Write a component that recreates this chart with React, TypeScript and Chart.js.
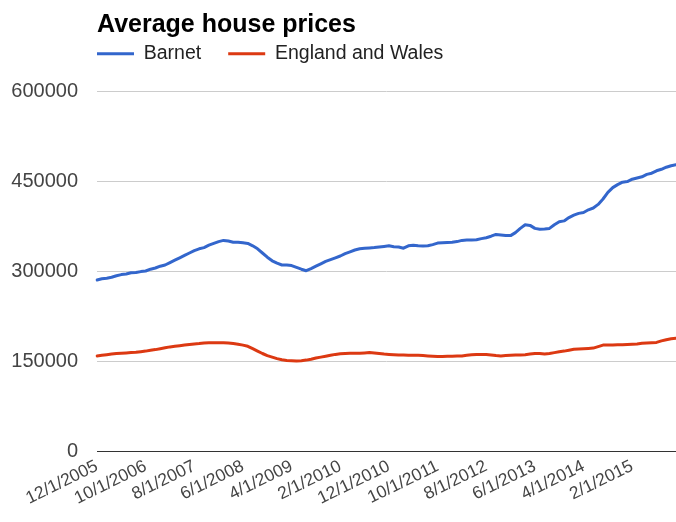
import React, { useEffect, useRef } from 'react';
import { Chart, registerables } from 'chart.js';

Chart.register(...registerables);

// Monthly categories: 12/1/2005 .. 11/1/2015
const START_YEAR = 2005;
const START_MONTH = 12;
const MONTH_COUNT = 120;
const CATEGORIES: string[] = Array.from({ length: MONTH_COUNT }, (_, i) => {
  const m0 = START_MONTH - 1 + i;
  return `${(m0 % 12) + 1}/1/${START_YEAR + Math.floor(m0 / 12)}`;
});

const TICK_LABELS = [
  '12/1/2005', '10/1/2006', '8/1/2007', '6/1/2008', '4/1/2009', '2/1/2010',
  '12/1/2010', '10/1/2011', '8/1/2012', '6/1/2013', '4/1/2014', '2/1/2015',
];

const Y_MIN = 0;
const Y_MAX = 600000;
const Y_STEP = 150000;

// Average prices in £ thousands
const BARNET_K = [
  285, 287, 288, 289.5, 292, 294, 295, 297, 297.5, 299,
  300, 303, 305, 308, 310, 314, 318, 322, 326, 330,
  334, 337, 339, 343, 346, 349, 351, 350, 348, 348,
  347, 346, 342, 337, 330, 323, 317, 313, 310, 310,
  309, 306, 303, 300.5, 304, 308, 312, 316, 319, 322,
  325, 329, 332, 335, 337, 338, 338.5, 339, 340, 341,
  342, 340.5, 340, 338, 342, 343, 342, 341.5, 342, 344,
  346.5, 347, 347.5, 348, 349, 351, 351.5, 351.5, 352, 354,
  355.5, 358, 361, 360, 359, 359, 364, 371, 377, 376,
  371, 369.5, 370, 371, 377, 382, 383.5, 389, 393, 396,
  397.5, 402, 405, 411, 420, 431, 439, 444, 448, 449,
  453, 455, 457, 461, 463, 467, 469.5, 473, 475.5, 477,
];

const ENGLAND_WALES_K = [
  158.5, 159.5, 160.5, 161.5, 162.5, 163, 163.5, 164, 164.5, 165.5,
  166.5, 168, 169, 170.5, 172, 173.5, 174.5, 175.5, 176.5, 177.5,
  178.5, 179, 180, 180.5, 180.5, 180.5, 180.5, 180, 179, 178,
  176.5, 174.5, 170.5, 166.5, 162.5, 159, 156.5, 154, 152, 151,
  150.5, 150, 150.5, 151.5, 153, 155, 156.5, 158, 159.5, 161,
  162, 162.5, 163, 163, 163, 163.5, 164, 163.5, 162.5, 161.5,
  161, 160.5, 160, 160, 159.5, 159.5, 159.5, 159, 158.5, 158,
  157.5, 157.5, 158, 158, 158.5, 158.5, 159.5, 160.5, 161, 161,
  161, 160, 159, 158.5, 159, 159.5, 160, 160, 160.5, 161.5,
  162.5, 162.5, 161.5, 162.5, 164, 165.5, 166.5, 168, 169.5, 170,
  170.5, 171, 171.5, 174, 176.5, 176.5, 176.5, 177, 177, 177.5,
  178, 178.5, 179.5, 180, 180.5, 181, 183.5, 185.5, 187, 188,
];

const SERIES_NAMES = ['Barnet', 'England and Wales'];
const SERIES_COLORS = ['#3366cc', '#dc3912'];

const FONT = '"Liberation Sans", Arial, Helvetica, sans-serif';
const LEGEND_GAP = 27;
const LEGEND_TOP = 17;

export default function App() {
  const ref = useRef<HTMLCanvasElement>(null);

  useEffect(() => {
    const canvas = ref.current;
    if (!canvas) return;

    const legendPlacement = {
      id: 'legendPlacement',
      beforeDraw(chart: any) {
        const lg = chart.legend;
        if (lg) {
          lg.left = chart.chartArea.left - LEGEND_GAP;
          lg.top = LEGEND_TOP;
        }
      },
    };

    const chart = new Chart(canvas, {
      type: 'line',
      data: {
        labels: CATEGORIES,
        datasets: [
          {
            label: SERIES_NAMES[0],
            data: BARNET_K.map((v) => v * 1000),
            borderColor: SERIES_COLORS[0],
            backgroundColor: SERIES_COLORS[0],
            borderWidth: 3,
            pointRadius: 0,
            tension: 0,
            borderJoinStyle: 'round',
            borderCapStyle: 'round',
          },
          {
            label: SERIES_NAMES[1],
            data: ENGLAND_WALES_K.map((v) => v * 1000),
            borderColor: SERIES_COLORS[1],
            backgroundColor: SERIES_COLORS[1],
            borderWidth: 3,
            pointRadius: 0,
            tension: 0,
            borderJoinStyle: 'round',
            borderCapStyle: 'round',
          },
        ],
      },
      options: {
        animation: false,
        responsive: false,
        layout: { padding: 0 },
        plugins: {
          title: {
            display: true,
            text: 'Average house prices',
            align: 'start',
            fullSize: false,
            color: '#000',
            font: { family: FONT, size: 25, weight: 'bold', lineHeight: 1.2 },
            padding: { top: 10, bottom: 0 },
          },
          legend: {
            display: true,
            position: 'top',
            align: 'start',
            fullSize: false,
            maxHeight: 51,
            labels: {
              boxWidth: 37,
              boxHeight: 3,
              padding: LEGEND_GAP,
              color: '#222',
              font: { family: FONT, size: 19.5 },
              generateLabels: (c: any) =>
                c.data.datasets.map((ds: any, i: number) => ({
                  text: ds.label,
                  fillStyle: ds.borderColor,
                  strokeStyle: ds.borderColor,
                  lineWidth: 0,
                  hidden: false,
                  datasetIndex: i,
                  fontColor: '#222',
                })),
            },
          },
          tooltip: { enabled: false },
        },
        scales: {
          x: {
            type: 'category',
            grid: { display: false },
            border: { display: true, color: '#333', width: 1 },
            ticks: {
              autoSkip: false,
              maxRotation: 26,
              minRotation: 26,
              padding: -3,
              color: '#444',
              font: { family: FONT, size: 17.5 },
              callback: (_v: any, idx: number) => {
                const l = CATEGORIES[idx];
                return TICK_LABELS.includes(l) ? l : null;
              },
            },
            afterFit: (s: any) => {
              s.height = 71;
            },
          },
          y: {
            min: Y_MIN,
            max: Y_MAX,
            grid: {
              color: (ctx: any) => (ctx.tick && ctx.tick.value === 0 ? '#333' : '#ccc'),
              drawTicks: false,
              lineWidth: 1,
            },
            border: { display: false },
            ticks: {
              stepSize: Y_STEP,
              padding: 19,
              color: '#444',
              font: { family: FONT, size: 20 },
              callback: (v: any) => String(v),
            },
            afterFit: (s: any) => {
              s.width = 97;
            },
          },
        },
      },
      plugins: [legendPlacement],
    } as any);

    return () => chart.destroy();
  }, []);

  return (
    <div style={{ position: 'absolute', left: 0, top: 0, width: 676, height: 522, background: '#fff' }}>
      <canvas ref={ref} width={676} height={522} style={{ display: 'block' }} />
    </div>
  );
}
